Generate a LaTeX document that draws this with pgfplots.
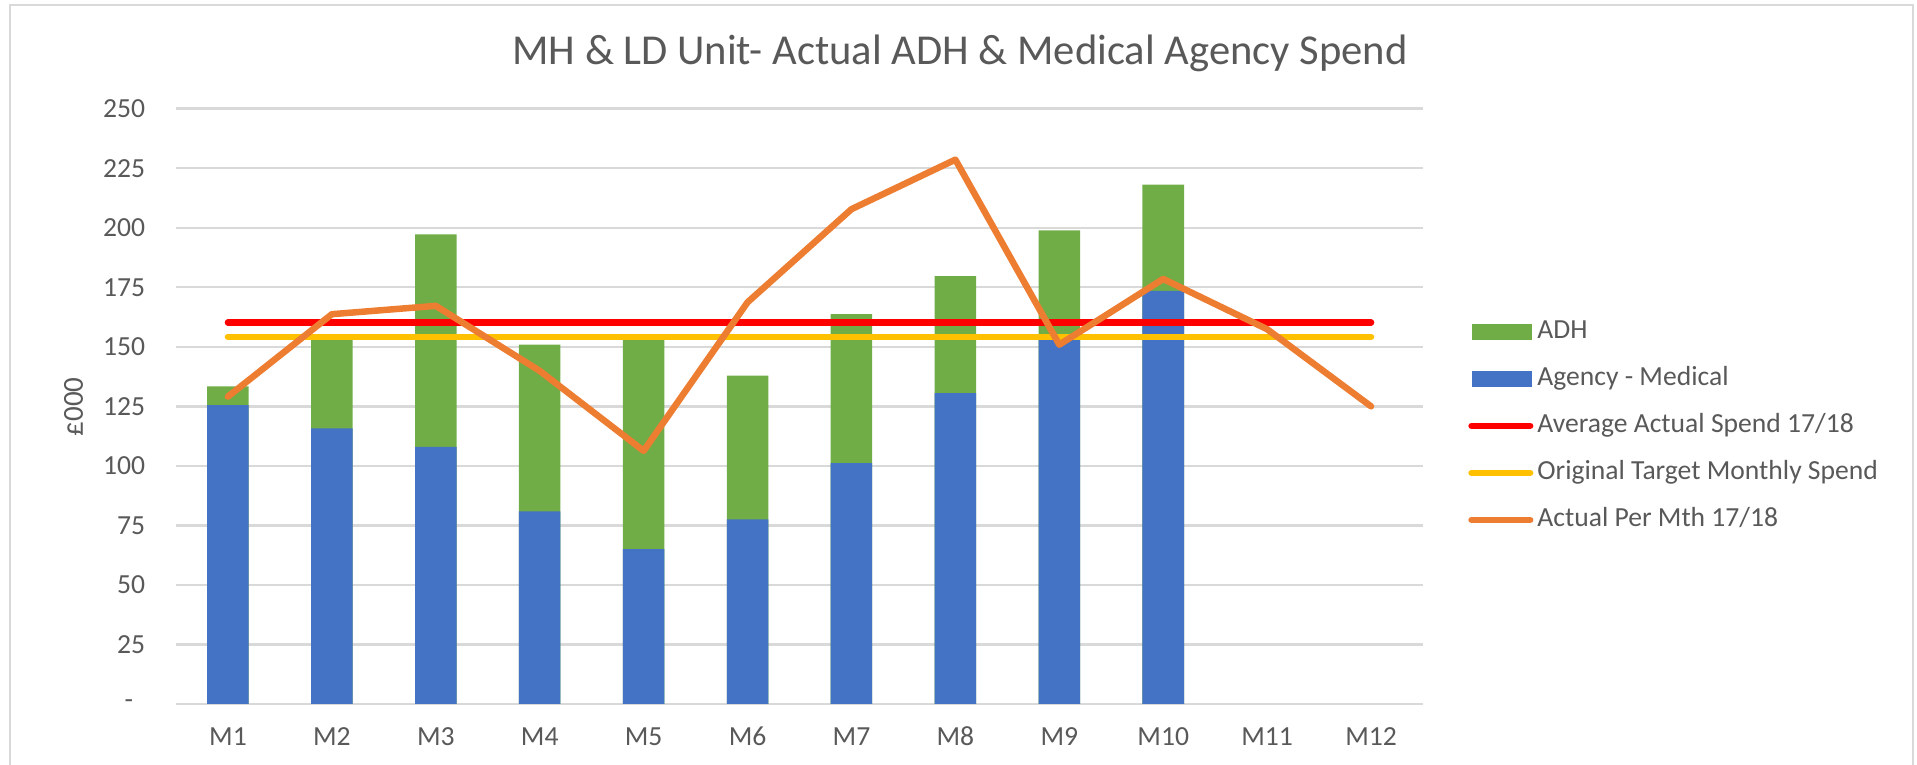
\documentclass[border=0pt]{standalone}
\usepackage{fontspec}
\setmainfont{Carlito}
\usepackage{pgfplots}
\usepackage{pgfplotstable}
\pgfplotsset{compat=1.18}

\definecolor{agencyblue}{HTML}{4472C4}
\definecolor{adhgreen}{HTML}{70AD47}
\definecolor{avgred}{HTML}{FF0000}
\definecolor{targetyellow}{HTML}{FFC000}
\definecolor{actualorange}{HTML}{ED7D31}
\definecolor{gridgray}{HTML}{D9D9D9}
\definecolor{txtgray}{HTML}{595959}

% spend per month, 000s
\pgfplotstableread{
m  agency adh  actual
1  125.5  7.9  129.1
2  115.7  38.0 163.7
3  108.0  89.2 167.2
4  80.9   70.0 139.9
5  65.0   88.5 106.3
6  77.5   60.4 168.7
7  101.2  62.5 207.8
8  130.5  49.2 228.6
9  155.0  43.9 150.9
10 173.5  44.6 178.5
11 nan    nan  157.4
12 nan    nan  125.0
}\spend

\newcommand{\tickfont}{\fontsize{13.8}{16}\selectfont}

\begin{document}
\begin{tikzpicture}
\path[use as bounding box] (0,0) rectangle (958.5pt,382.5pt);
\draw[gridgray, line width=1pt] (5pt,0) -- (5pt,380pt) -- (956.5pt,380pt) -- (956.5pt,0);

\node[anchor=base, font=\fontsize{21.3}{25}\selectfont, text=txtgray] at (480pt,350pt)
  {MH \& LD Unit- Actual ADH \& Medical Agency Spend};
\node[rotate=90, font=\fontsize{14.5}{17}\selectfont, text=txtgray] at (36.8pt,179pt) {£000};

\begin{axis}[
  at={(88pt,30.5pt)}, anchor=south west,
  scale only axis, width=623.5pt, height=297.65pt,
  xmin=0.5, xmax=12.5, ymin=0, ymax=250,
  xtick={1,...,12},
  xticklabels={M1,M2,M3,M4,M5,M6,M7,M8,M9,M10,M11,M12},
  ytick={25,50,...,250},
  extra y ticks={0},
  extra y tick labels={-},
  extra y tick style={yticklabel style={xshift=-6pt}},
  ymajorgrids,
  major grid style={draw=gridgray, line width=1.2pt},
  axis line style={draw=none},
  major tick length=0pt,
  tick label style={font=\tickfont, text=txtgray},
  xticklabel style={anchor=base, yshift=-20.8pt},
  yticklabel style={anchor=east, xshift=-11.9pt},
  /pgf/number format/assume math mode=true,
  clip=false,
  legend cell align=left,
  legend style={at={(axis description cs:1.036,0.6535)}, anchor=north west,
    draw=none, fill=none, inner sep=0pt, font=\tickfont, text=txtgray,
    row sep=7pt, nodes={inner sep=2pt, text height=9.5pt, text depth=3pt}},
]
% total bar in green, agency part over it in blue
\addplot[ybar, bar width=0.4, bar shift=0pt, fill=adhgreen, draw=none, forget plot]
  table[x=m, y expr=\thisrow{agency}+\thisrow{adh}] {\spend};
\addplot[ybar, bar width=0.4, bar shift=0pt, fill=agencyblue, draw=none, forget plot]
  table[x=m, y=agency] {\spend};

\addplot[avgred, line width=3.25pt, line cap=round, forget plot]
  coordinates {(1,160.2) (12,160.2)};
\addplot[targetyellow, line width=3.25pt, line cap=round, forget plot]
  coordinates {(1,154.2) (12,154.2)};
\addplot[actualorange, line width=3.25pt, line cap=round, line join=round, forget plot]
  table[x=m, y=actual] {\spend};

\addlegendimage{legend image code/.code={\fill[adhgreen] (2pt,-3.75pt) rectangle (31.5pt,3.75pt);}}
\addlegendentry{ADH}
\addlegendimage{legend image code/.code={\fill[agencyblue] (2pt,-3.75pt) rectangle (31.5pt,3.75pt);}}
\addlegendentry{Agency - Medical}
\addlegendimage{legend image code/.code={\draw[avgred, line width=3.25pt, line cap=round] (1.6pt,0pt) -- (30.9pt,0pt);}}
\addlegendentry{Average Actual Spend 17/18}
\addlegendimage{legend image code/.code={\draw[targetyellow, line width=3.25pt, line cap=round] (1.6pt,0pt) -- (30.9pt,0pt);}}
\addlegendentry{Original Target Monthly Spend}
\addlegendimage{legend image code/.code={\draw[actualorange, line width=3.25pt, line cap=round] (1.6pt,0pt) -- (30.9pt,0pt);}}
\addlegendentry{Actual Per Mth 17/18}
\end{axis}
\end{tikzpicture}
\end{document}
